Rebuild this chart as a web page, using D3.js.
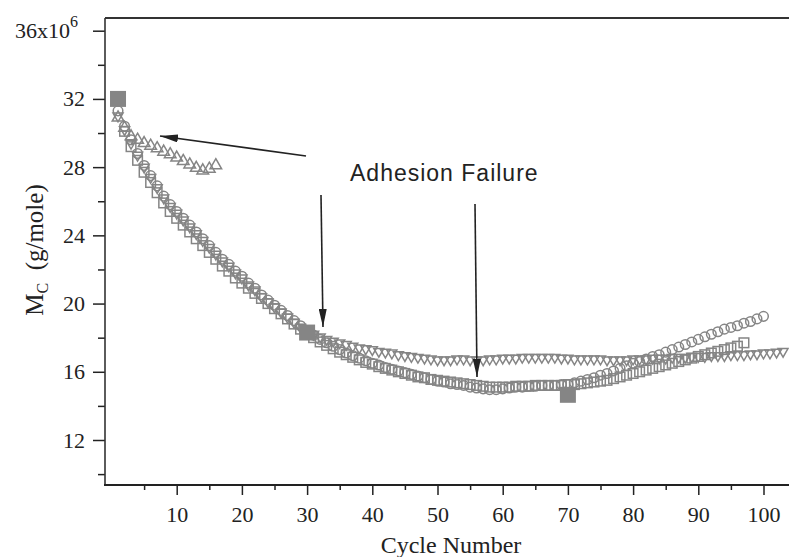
<!DOCTYPE html>
<html><head><meta charset="utf-8">
<script src="https://cdn.jsdelivr.net/npm/d3@7"></script>
<style>body{margin:0;background:#fff}svg{display:block}</style>
</head><body>
<svg id="c" width="789" height="557"></svg>
<script>
// ---- data ----
const circleStart = 1;
const circleVals = [31.3,30.4,29.6,28.8,28.1,27.5,26.9,26.3,25.8,25.4,
 25.0,24.6,24.2,23.8,23.4,23.0,22.6,22.3,21.9,21.6,
 21.2,20.9,20.5,20.2,19.9,19.6,19.3,19.0,18.7,18.4,
 18.15,17.9,17.7,17.5,17.3,17.1,16.95,16.8,16.65,16.5,
 16.4,16.25,16.15,16.05,15.95,15.85,15.75,15.65,15.55,15.45,
 15.4,15.3,15.25,15.2,15.1,15.05,15.0,14.95,14.95,15.0,
 15.05,15.1,15.1,15.15,15.15,15.2,15.2,15.2,15.25,15.25,
 15.35,15.45,15.55,15.65,15.8,15.9,16.05,16.2,16.35,16.5,
 16.6,16.75,16.9,17.0,17.15,17.3,17.45,17.6,17.75,17.9,
 18.05,18.2,18.35,18.5,18.6,18.7,18.85,18.95,19.1,19.25];
const squareStart = 2;
const squareVals = [30.1,29.2,28.4,27.7,27.1,26.5,25.9,25.4,25.0,
 24.6,24.2,23.8,23.4,23.0,22.6,22.2,21.9,21.5,21.2,
 20.9,20.6,20.3,20.0,19.7,19.4,19.1,18.8,18.5,18.25,
 18.0,17.75,17.55,17.35,17.15,17.0,16.85,16.7,16.55,16.45,
 16.3,16.2,16.1,16.0,15.9,15.8,15.7,15.65,15.55,15.5,
 15.45,15.4,15.35,15.3,15.25,15.2,15.15,15.1,15.1,15.1,
 15.1,15.15,15.15,15.15,15.2,15.2,15.2,15.2,15.2,15.25,
 15.25,15.3,15.35,15.4,15.45,15.5,15.6,15.7,15.8,15.9,
 16.0,16.1,16.2,16.3,16.4,16.5,16.6,16.7,16.8,16.9,
 17.0,17.1,17.2,17.3,17.4,17.5,17.7];
const downTriStart = 1;
const downTriVals = [31.0,30.2,29.4,28.7,28.0,27.4,26.8,26.2,25.7,25.3,
 24.9,24.5,24.1,23.7,23.3,22.9,22.5,22.2,21.8,21.5,
 21.1,20.8,20.4,20.1,19.8,19.5,19.2,18.9,18.6,18.4,
 18.2,18.05,17.9,17.8,17.7,17.6,17.5,17.4,17.35,17.3,
 17.2,17.15,17.1,17.0,16.95,16.9,16.85,16.8,16.75,16.7,
 16.7,16.7,16.75,16.75,16.7,16.7,16.7,16.75,16.75,16.8,
 16.8,16.8,16.85,16.85,16.85,16.85,16.85,16.85,16.8,16.8,
 16.75,16.75,16.75,16.75,16.75,16.7,16.7,16.7,16.7,16.75,
 16.75,16.75,16.8,16.8,16.8,16.85,16.85,16.85,16.9,16.9,
 16.9,16.95,16.95,16.95,17.0,17.0,17.0,17.05,17.05,17.1,
 17.1,17.15,17.2];
const upTriStart = 1;
const upTriVals = [30.9,30.3,29.8,29.6,29.4,29.25,29.1,28.9,28.75,28.55,
 28.35,28.15,27.95,27.8,27.9,28.1];
const filledCycles = [1,30,70];
const filledVals = [32.0,18.3,14.65];

const xTicks = [10,20,30,40,50,60,70,80,90,100];
const xMinor = [5,15,25,35,45,55,65,75,85,95];
const yTicks = [12,16,20,24,28,32];
const yMinor = [10,14,18,22,26,30,34];
const yTopTick = 36;
const xLabel = "Cycle Number";
const annotation = "Adhesion Failure";

// ---- chart ----
const svg = d3.select("#c");
const x = d3.scaleLinear().domain([0,100]).range([111.5,763.5]);
const y = d3.scaleLinear().domain([12,36]).range([440,30.7]);
const pL = 105, pB = 485, pT = 18, pR = 789;
const gray = "#858585";
const serif = "'Liberation Serif','Times New Roman',serif";

function pts(start, vals){ return vals.map((v,i)=>({c:start+i,v})); }

// markers
const gM = svg.append("g").attr("fill","none").attr("stroke",gray).attr("stroke-width",1.5);
gM.selectAll("circle.c").data(pts(circleStart,circleVals)).join("circle")
  .attr("cx",d=>x(d.c)).attr("cy",d=>y(d.v)).attr("r",4.8);
gM.selectAll("rect.s").data(pts(squareStart,squareVals)).join("rect")
  .attr("x",d=>x(d.c)-4.8).attr("y",d=>y(d.v)-4.8).attr("width",9.6).attr("height",9.6);
const triUp = d3.symbol().type(d3.symbolTriangle).size(58);
gM.selectAll("path.u").data(pts(upTriStart,upTriVals)).join("path")
  .attr("d",triUp).attr("transform",d=>`translate(${x(d.c)},${y(d.v)})`);
const triDown = d3.symbol().type(d3.symbolTriangle).size(44);
gM.selectAll("path.d").data(pts(downTriStart,downTriVals)).join("path")
  .attr("d",triDown).attr("transform",d=>`translate(${x(d.c)},${y(d.v)}) rotate(180)`);
svg.append("g").selectAll("rect").data(filledCycles.map((c,i)=>({c,v:filledVals[i]}))).join("rect")
  .attr("x",d=>x(d.c)-8).attr("y",d=>y(d.v)-8).attr("width",16).attr("height",16)
  .attr("fill",gray);

// axes
const ax = svg.append("g").attr("transform",`translate(0,${pB})`)
  .call(d3.axisBottom(x).tickValues(xTicks).tickSize(10).tickPadding(11));
ax.select(".domain").remove();
ax.selectAll("line").attr("stroke","#222").attr("stroke-width",1.5);
ax.selectAll("text").attr("font-family",serif).attr("font-size",22).attr("fill","#222");
const axm = svg.append("g").attr("transform",`translate(0,${pB})`)
  .call(d3.axisBottom(x).tickValues(xMinor).tickSize(5).tickFormat(""));
axm.select(".domain").remove();
axm.selectAll("line").attr("stroke","#222").attr("stroke-width",1.5);

const ay = svg.append("g").attr("transform",`translate(${pL},0)`)
  .call(d3.axisLeft(y).tickValues(yTicks.concat([yTopTick])).tickSize(12).tickPadding(8)
    .tickFormat(d=>d===yTopTick?"":d));
ay.select(".domain").remove();
ay.selectAll("line").attr("stroke","#222").attr("stroke-width",1.5);
ay.selectAll("text").attr("font-family",serif).attr("font-size",22).attr("fill","#222");
const aym = svg.append("g").attr("transform",`translate(${pL},0)`)
  .call(d3.axisLeft(y).tickValues(yMinor).tickSize(7).tickFormat(""));
aym.select(".domain").remove();
aym.selectAll("line").attr("stroke","#222").attr("stroke-width",1.5);

// top tick label 36x10^6
const t36 = svg.append("text").attr("x",78).attr("y",y(yTopTick)+7)
  .attr("text-anchor","end").attr("font-family",serif).attr("font-size",22).attr("fill","#222");
t36.append("tspan").text("36x10");
t36.append("tspan").attr("dy",-11).attr("font-size",16).text("6");

// frame
svg.append("path").attr("d",`M${pL},${pT}V${pB}`).attr("stroke","#333").attr("stroke-width",1.6);
svg.append("path").attr("d",`M${pL-1},${pB}H${pR}`).attr("stroke","#222").attr("stroke-width",2.2);
svg.append("path").attr("d",`M${pL},${pT}H${pR}`).attr("stroke","#333").attr("stroke-width",2);

// axis titles
svg.append("text").attr("x",451).attr("y",553).attr("text-anchor","middle")
  .attr("font-family",serif).attr("font-size",24).attr("fill","#222").text(xLabel);
const yl = svg.append("text").attr("transform","translate(43,250) rotate(-90)")
  .attr("text-anchor","middle").attr("font-family",serif).attr("font-size",25).attr("fill","#222");
yl.append("tspan").text("M");
yl.append("tspan").attr("dy",5).attr("font-size",16).text("C");
yl.append("tspan").attr("dy",-5).text("\u00a0 (g/mole)");

// annotation
svg.append("text").attr("x",350).attr("y",181).attr("font-family","'Liberation Sans',Arial,sans-serif")
  .attr("font-size",23).attr("letter-spacing",1).attr("fill","#222").text(annotation);

// arrows
const defs = svg.append("defs");
defs.append("marker").attr("id","ah").attr("viewBox","0 0 18 8").attr("refX",18).attr("refY",4)
  .attr("markerWidth",18).attr("markerHeight",8).attr("markerUnits","userSpaceOnUse").attr("orient","auto")
  .append("path").attr("d","M0,0L18,4L0,8Z").attr("fill","#222");
const arrows = [[306,156,160,136],[321,195,323,327],[475,204,477,377]];
svg.append("g").selectAll("line").data(arrows).join("line")
  .attr("x1",d=>d[0]).attr("y1",d=>d[1]).attr("x2",d=>d[2]).attr("y2",d=>d[3])
  .attr("stroke","#222").attr("stroke-width",1.6).attr("marker-end","url(#ah)");
</script>
</body></html>
